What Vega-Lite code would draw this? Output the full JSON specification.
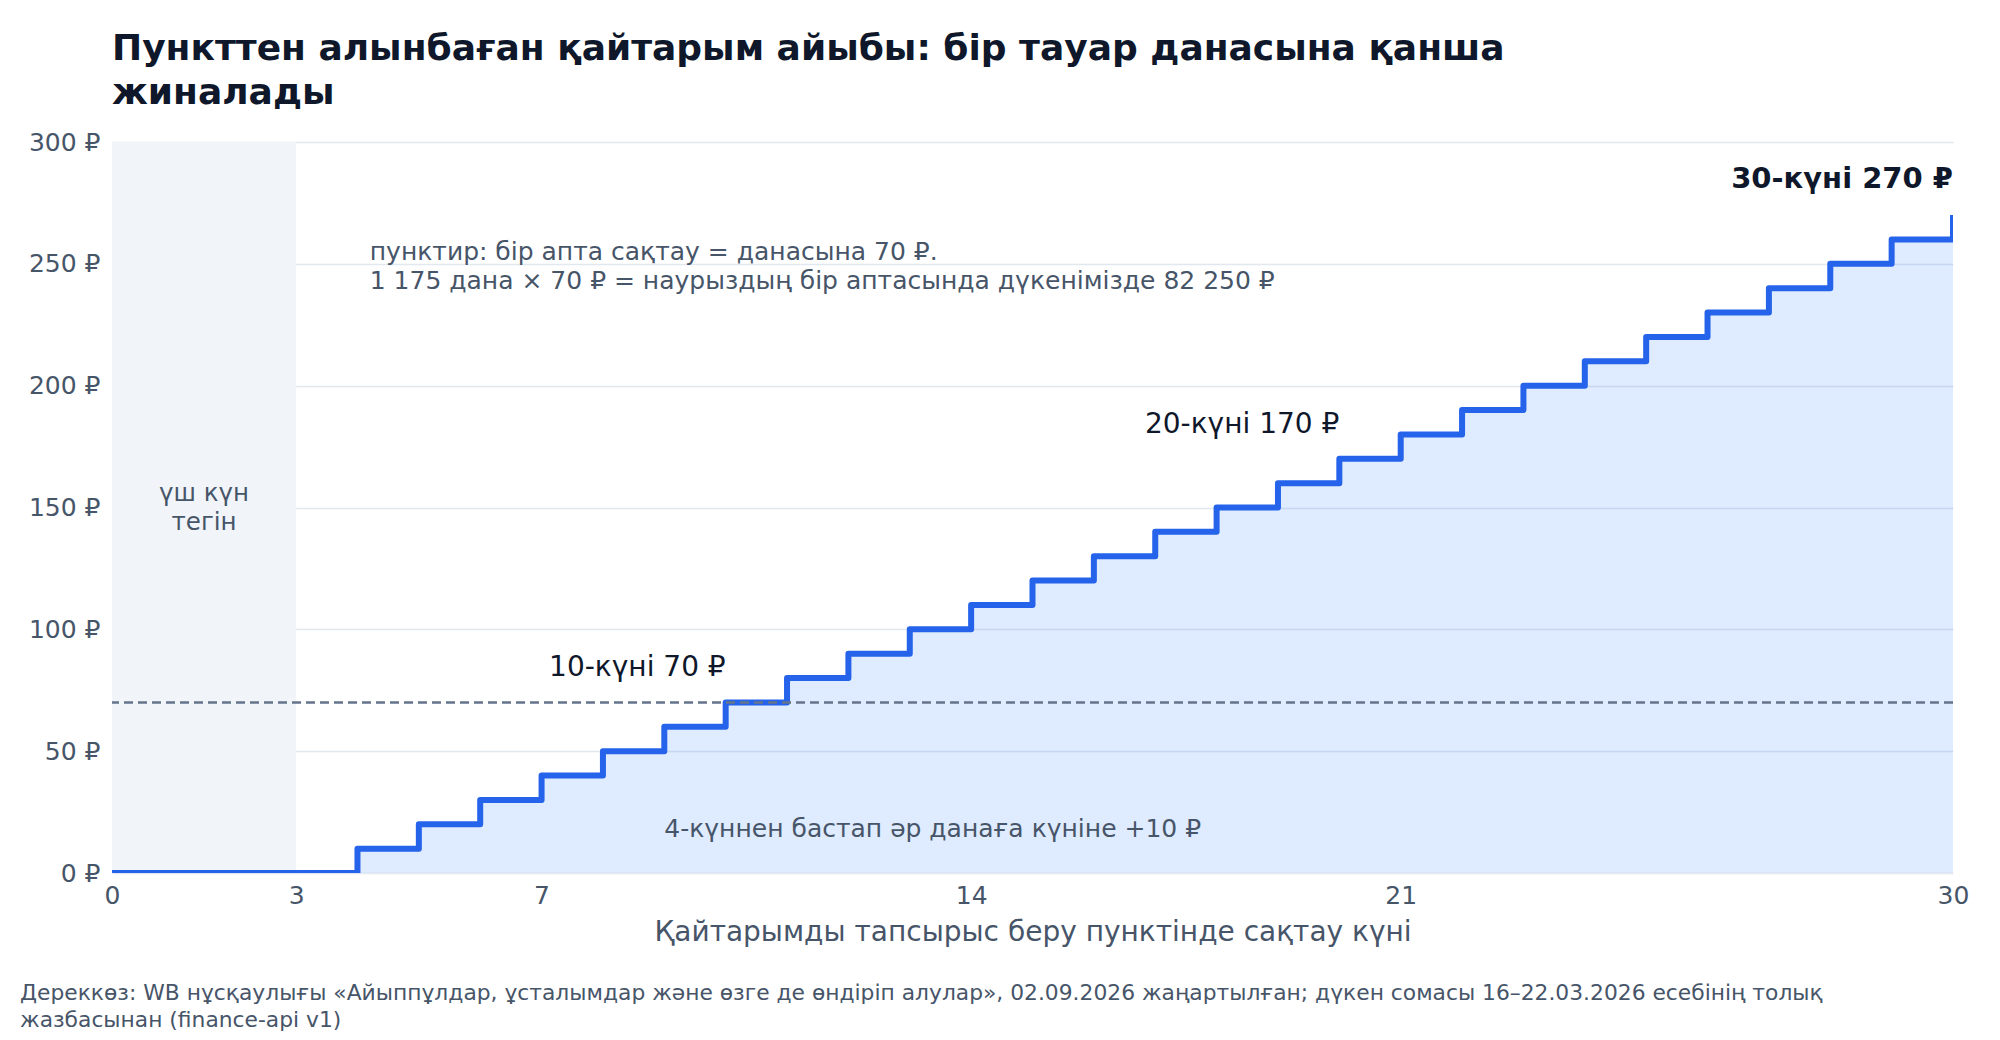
{
  "$schema": "https://vega.github.io/schema/vega-lite/v6.json",
  "background": "white",
  "padding": {"top": 31, "left": 20, "right": 0, "bottom": 0},
  "config": {
    "font": "DejaVu Sans",
    "view": {"stroke": null},
    "axis": {"labelFont": "DejaVu Sans", "titleFont": "DejaVu Sans"}
  },
  "title": {
    "text": ["Дереккөз: WB нұсқаулығы «Айыппұлдар, ұсталымдар және өзге де өндіріп алулар», 02.09.2026 жаңартылған; дүкен сомасы 16–22.03.2026 есебінің толық", "жазбасынан (finance-api v1)"],
    "orient": "bottom",
    "anchor": "start",
    "frame": "bounds",
    "dx": 0,
    "offset": 37,
    "fontSize": 21.8,
    "fontWeight": "normal",
    "color": "#475569",
    "lineHeight": 27
  },
  "datasets": {
    "steps": [
      {"day": 0, "fee": 0}, {"day": 1, "fee": 0}, {"day": 2, "fee": 0}, {"day": 3, "fee": 0},
      {"day": 4, "fee": 10}, {"day": 5, "fee": 20}, {"day": 6, "fee": 30}, {"day": 7, "fee": 40},
      {"day": 8, "fee": 50}, {"day": 9, "fee": 60}, {"day": 10, "fee": 70}, {"day": 11, "fee": 80},
      {"day": 12, "fee": 90}, {"day": 13, "fee": 100}, {"day": 14, "fee": 110}, {"day": 15, "fee": 120},
      {"day": 16, "fee": 130}, {"day": 17, "fee": 140}, {"day": 18, "fee": 150}, {"day": 19, "fee": 160},
      {"day": 20, "fee": 170}, {"day": 21, "fee": 180}, {"day": 22, "fee": 190}, {"day": 23, "fee": 200},
      {"day": 24, "fee": 210}, {"day": 25, "fee": 220}, {"day": 26, "fee": 230}, {"day": 27, "fee": 240},
      {"day": 28, "fee": 250}, {"day": 29, "fee": 260}, {"day": 30, "fee": 270}
    ],
    "marks": [
      {"day": 10, "fee": 84, "label": "10-күні 70 ₽"},
      {"day": 20, "fee": 184, "label": "20-күні 170 ₽"}
    ],
    "final": [
      {"day": 30, "fee": 285, "label": "30-күні 270 ₽"}
    ],
    "notes": [
      {"day": 4.2, "fee": 255, "label": "пунктир: бір апта сақтау = данасына 70 ₽.\n1 175 дана × 70 ₽ = наурыздың бір аптасында дүкенімізде 82 250 ₽"},
      {"day": 9.0, "fee": 18, "label": "4-күннен бастап әр данаға күніне +10 ₽"}
    ],
    "free": [
      {"start": 0, "end": 3, "mid": 1.5, "fee": 155.5, "label": "үш күн\nтегін"}
    ],
    "week": [
      {"fee": 70}
    ]
  },
  "vconcat": [
    {
      "width": 1841,
      "height": 731,
      "title": {
        "text": ["Пункттен алынбаған қайтарым айыбы: бір тауар данасына қанша", "жиналады"],
        "anchor": "start",
        "frame": "group",
        "fontSize": 36,
        "fontWeight": "bold",
        "color": "#0f172a",
        "lineHeight": 44,
        "offset": 18
      },
      "layer": [
        {
          "data": {"name": "free"},
          "mark": {"type": "rect", "color": "#f1f5f9"},
          "encoding": {
            "x": {"field": "start", "type": "quantitative", "scale": {"domain": [0, 30], "nice": false},
              "axis": {"values": [0, 3, 7, 14, 21, 30], "format": "d", "labelFlush": false, "title": "Қайтарымды тапсырыс беру пунктінде сақтау күні",
                "grid": false, "ticks": false, "domain": false, "labelFontSize": 25, "labelColor": "#475569",
                "labelPadding": 10, "titleFontSize": 28, "titleFontWeight": "normal", "titleColor": "#475569", "titlePadding": 10}},
            "x2": {"field": "end"}
          }
        },
        {
          "data": {"name": "steps"},
          "mark": {"type": "area", "interpolate": "step-after", "color": "#3b82f6", "opacity": 0.16},
          "encoding": {
            "x": {"field": "day", "type": "quantitative"},
            "y": {"field": "fee", "type": "quantitative", "scale": {"domain": [0, 300], "nice": false},
              "axis": {"values": [0, 50, 100, 150, 200, 250, 300], "title": null, "labelExpr": "datum.value + ' ₽'",
                "grid": true, "gridColor": "#e2e8f0", "gridWidth": 1.5, "ticks": false, "domain": false,
                "labelFontSize": 25, "labelColor": "#475569", "labelPadding": 12, "minExtent": 92, "maxExtent": 92}}
          }
        },
        {
          "data": {"name": "steps"},
          "mark": {"type": "line", "interpolate": "step-after", "color": "#2563eb", "strokeWidth": 6, "clip": true, "strokeJoin": "round"},
          "encoding": {
            "x": {"field": "day", "type": "quantitative"},
            "y": {"field": "fee", "type": "quantitative"}
          }
        },
        {
          "data": {"name": "week"},
          "mark": {"type": "rule", "color": "#64748b", "strokeWidth": 2.5, "strokeDash": [9, 5]},
          "encoding": {
            "y": {"field": "fee", "type": "quantitative"}
          }
        },
        {
          "data": {"name": "free"},
          "mark": {"type": "text", "fontSize": 24.5, "color": "#475569", "align": "center", "baseline": "middle", "lineBreak": "\n", "lineHeight": 29},
          "encoding": {
            "x": {"field": "mid", "type": "quantitative"},
            "y": {"field": "fee", "type": "quantitative"},
            "text": {"field": "label"}
          }
        },
        {
          "data": {"name": "notes"},
          "mark": {"type": "text", "fontSize": 25, "color": "#475569", "align": "left", "baseline": "middle", "lineBreak": "\n", "lineHeight": 29},
          "encoding": {
            "x": {"field": "day", "type": "quantitative"},
            "y": {"field": "fee", "type": "quantitative"},
            "text": {"field": "label"}
          }
        },
        {
          "data": {"name": "marks"},
          "mark": {"type": "text", "fontSize": 28, "color": "#0f172a", "align": "right", "baseline": "middle"},
          "encoding": {
            "x": {"field": "day", "type": "quantitative"},
            "y": {"field": "fee", "type": "quantitative"},
            "text": {"field": "label"}
          }
        },
        {
          "data": {"name": "final"},
          "mark": {"type": "text", "fontSize": 29, "fontWeight": "bold", "color": "#0f172a", "align": "right", "baseline": "middle"},
          "encoding": {
            "x": {"field": "day", "type": "quantitative"},
            "y": {"field": "fee", "type": "quantitative"},
            "text": {"field": "label"}
          }
        }
      ]
    }
  ]
}
